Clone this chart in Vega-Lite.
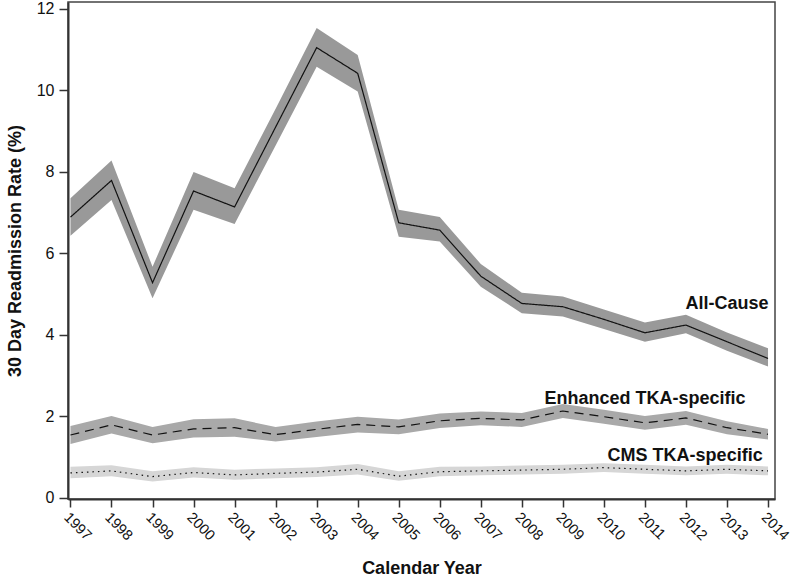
{
  "$schema": "https://vega.github.io/schema/vega-lite/v6.json",
  "autosize": "none",
  "width": 707,
  "height": 497,
  "padding": {"left": 68, "top": 2, "right": 16, "bottom": 80},
  "background": "white",
  "config": {
    "font": "Liberation Sans",
    "view": {"stroke": "#444", "strokeWidth": 1.5},
    "axis": {"grid": false, "domainColor": "#333", "domainWidth": 2, "tickColor": "#333", "tickWidth": 1.5, "labelColor": "#111", "labelFontSize": 16, "labelFont": "Liberation Sans", "titleFont": "Liberation Sans", "titleFontSize": 18, "titleFontWeight": "bold", "titleColor": "#111"}
  },
  "datasets": {
    "series": [
      {"year": 1997, "series": "All-Cause", "rate": 6.89, "lo": 6.43, "hi": 7.35},
      {"year": 1998, "series": "All-Cause", "rate": 7.79, "lo": 7.31, "hi": 8.28},
      {"year": 1999, "series": "All-Cause", "rate": 5.28, "lo": 4.90, "hi": 5.67},
      {"year": 2000, "series": "All-Cause", "rate": 7.53, "lo": 7.07, "hi": 8.00},
      {"year": 2001, "series": "All-Cause", "rate": 7.14, "lo": 6.72, "hi": 7.60},
      {"year": 2002, "series": "All-Cause", "rate": 9.10, "lo": 8.65, "hi": 9.55},
      {"year": 2003, "series": "All-Cause", "rate": 11.05, "lo": 10.58, "hi": 11.53},
      {"year": 2004, "series": "All-Cause", "rate": 10.42, "lo": 9.97, "hi": 10.87},
      {"year": 2005, "series": "All-Cause", "rate": 6.75, "lo": 6.41, "hi": 7.07},
      {"year": 2006, "series": "All-Cause", "rate": 6.57, "lo": 6.29, "hi": 6.89},
      {"year": 2007, "series": "All-Cause", "rate": 5.44, "lo": 5.18, "hi": 5.74},
      {"year": 2008, "series": "All-Cause", "rate": 4.77, "lo": 4.53, "hi": 5.03},
      {"year": 2009, "series": "All-Cause", "rate": 4.69, "lo": 4.45, "hi": 4.94},
      {"year": 2010, "series": "All-Cause", "rate": 4.38, "lo": 4.14, "hi": 4.62},
      {"year": 2011, "series": "All-Cause", "rate": 4.05, "lo": 3.83, "hi": 4.30},
      {"year": 2012, "series": "All-Cause", "rate": 4.24, "lo": 4.04, "hi": 4.49},
      {"year": 2013, "series": "All-Cause", "rate": 3.83, "lo": 3.61, "hi": 4.06},
      {"year": 2014, "series": "All-Cause", "rate": 3.42, "lo": 3.22, "hi": 3.67},
      {"year": 1997, "series": "Enhanced", "rate": 1.54, "lo": 1.32, "hi": 1.76},
      {"year": 1998, "series": "Enhanced", "rate": 1.79, "lo": 1.58, "hi": 2.01},
      {"year": 1999, "series": "Enhanced", "rate": 1.54, "lo": 1.34, "hi": 1.74},
      {"year": 2000, "series": "Enhanced", "rate": 1.69, "lo": 1.48, "hi": 1.93},
      {"year": 2001, "series": "Enhanced", "rate": 1.72, "lo": 1.50, "hi": 1.95},
      {"year": 2002, "series": "Enhanced", "rate": 1.55, "lo": 1.38, "hi": 1.74},
      {"year": 2003, "series": "Enhanced", "rate": 1.68, "lo": 1.49, "hi": 1.87},
      {"year": 2004, "series": "Enhanced", "rate": 1.80, "lo": 1.60, "hi": 1.99},
      {"year": 2005, "series": "Enhanced", "rate": 1.74, "lo": 1.56, "hi": 1.92},
      {"year": 2006, "series": "Enhanced", "rate": 1.89, "lo": 1.71, "hi": 2.07},
      {"year": 2007, "series": "Enhanced", "rate": 1.95, "lo": 1.78, "hi": 2.12},
      {"year": 2008, "series": "Enhanced", "rate": 1.91, "lo": 1.74, "hi": 2.08},
      {"year": 2009, "series": "Enhanced", "rate": 2.13, "lo": 1.96, "hi": 2.30},
      {"year": 2010, "series": "Enhanced", "rate": 1.99, "lo": 1.82, "hi": 2.16},
      {"year": 2011, "series": "Enhanced", "rate": 1.84, "lo": 1.67, "hi": 2.01},
      {"year": 2012, "series": "Enhanced", "rate": 1.96, "lo": 1.79, "hi": 2.13},
      {"year": 2013, "series": "Enhanced", "rate": 1.72, "lo": 1.56, "hi": 1.88},
      {"year": 2014, "series": "Enhanced", "rate": 1.56, "lo": 1.43, "hi": 1.69},
      {"year": 1997, "series": "CMS", "rate": 0.61, "lo": 0.48, "hi": 0.76},
      {"year": 1998, "series": "CMS", "rate": 0.66, "lo": 0.53, "hi": 0.80},
      {"year": 1999, "series": "CMS", "rate": 0.52, "lo": 0.40, "hi": 0.65},
      {"year": 2000, "series": "CMS", "rate": 0.62, "lo": 0.50, "hi": 0.75},
      {"year": 2001, "series": "CMS", "rate": 0.56, "lo": 0.44, "hi": 0.69},
      {"year": 2002, "series": "CMS", "rate": 0.60, "lo": 0.48, "hi": 0.72},
      {"year": 2003, "series": "CMS", "rate": 0.63, "lo": 0.51, "hi": 0.75},
      {"year": 2004, "series": "CMS", "rate": 0.70, "lo": 0.57, "hi": 0.83},
      {"year": 2005, "series": "CMS", "rate": 0.53, "lo": 0.42, "hi": 0.65},
      {"year": 2006, "series": "CMS", "rate": 0.64, "lo": 0.53, "hi": 0.76},
      {"year": 2007, "series": "CMS", "rate": 0.66, "lo": 0.55, "hi": 0.77},
      {"year": 2008, "series": "CMS", "rate": 0.68, "lo": 0.57, "hi": 0.79},
      {"year": 2009, "series": "CMS", "rate": 0.70, "lo": 0.59, "hi": 0.81},
      {"year": 2010, "series": "CMS", "rate": 0.74, "lo": 0.63, "hi": 0.85},
      {"year": 2011, "series": "CMS", "rate": 0.70, "lo": 0.59, "hi": 0.81},
      {"year": 2012, "series": "CMS", "rate": 0.66, "lo": 0.55, "hi": 0.77},
      {"year": 2013, "series": "CMS", "rate": 0.70, "lo": 0.59, "hi": 0.81},
      {"year": 2014, "series": "CMS", "rate": 0.66, "lo": 0.55, "hi": 0.77}
    ],
    "labels": [
      {"label": "All-Cause", "year": 2013.0, "rate": 4.75},
      {"label": "Enhanced TKA-specific", "year": 2011.0, "rate": 2.42},
      {"label": "CMS TKA-specific", "year": 2011.98, "rate": 1.03}
    ]
  },
  "layer": [
    {
      "data": {"name": "series"},
      "mark": {"type": "area", "opacity": 1},
      "encoding": {
        "x": {"field": "year", "type": "quantitative", "scale": {"domain": [1996.94, 2014.17], "nice": false, "zero": false},
          "axis": {"values": [1997,1998,1999,2000,2001,2002,2003,2004,2005,2006,2007,2008,2009,2010,2011,2012,2013,2014], "format": "d", "labelAngle": 45, "labelAlign": "left", "labelBaseline": "top", "labelFontSize": 14.5, "tickSize": 8, "labelPadding": 3, "title": "Calendar Year", "titlePadding": 17}},
        "y": {"field": "lo", "type": "quantitative", "stack": null, "scale": {"domain": [-0.03, 12.17], "nice": false, "zero": false},
          "axis": {"values": [0,2,4,6,8,10,12], "tickSize": 9, "labelPadding": 5, "title": "30 Day Readmission Rate (%)", "titlePadding": 12}},
        "y2": {"field": "hi"},
        "color": {"field": "series", "type": "nominal", "scale": {"domain": ["All-Cause", "Enhanced", "CMS"], "range": ["#999999", "#a9a9a9", "#d6d6d6"]}, "legend": null}
      }
    },
    {
      "data": {"name": "series"},
      "mark": {"type": "line", "color": "#111", "strokeWidth": 1.2},
      "encoding": {
        "x": {"field": "year", "type": "quantitative"},
        "y": {"field": "rate", "type": "quantitative"},
        "detail": {"field": "series"},
        "strokeDash": {"field": "series", "type": "nominal", "scale": {"domain": ["All-Cause", "Enhanced", "CMS"], "range": [[1, 0], [9, 6], [1.5, 4]]}, "legend": null}
      }
    },
    {
      "data": {"name": "labels"},
      "mark": {"type": "text", "font": "Liberation Sans", "fontSize": 18, "fontWeight": "bold", "color": "#111", "align": "center", "baseline": "middle"},
      "encoding": {
        "x": {"field": "year", "type": "quantitative"},
        "y": {"field": "rate", "type": "quantitative"},
        "text": {"field": "label"}
      }
    }
  ]
}
